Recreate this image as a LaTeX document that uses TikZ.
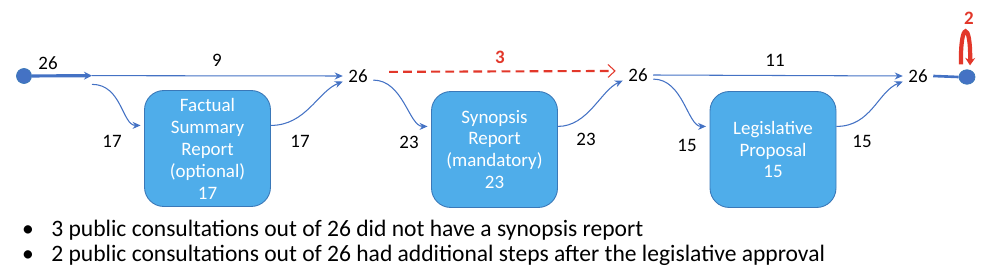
\documentclass[tikz,border=0pt]{standalone}
\usepackage{fontspec}
\setmainfont{Carlito}
\usetikzlibrary{arrows.meta,calc,shapes.geometric}
\definecolor{boxblue}{HTML}{4FADEA}
\definecolor{boxedge}{HTML}{3A78B8}
\definecolor{flowblue}{HTML}{4472C4}
\definecolor{flowred}{HTML}{E2372A}

\begin{document}
\begin{tikzpicture}[
  x=0.02cm, y=-0.02cm,
  font=\fontsize{10.8}{12.5}\selectfont,
  box/.style={draw=boxedge,fill=boxblue,rounded corners=11pt,text=white,align=center,
    minimum width=2.52cm,minimum height=2.32cm,line width=0.5pt},
  count/.style={inner xsep=3pt,inner ysep=2pt},
  lbl/.style={inner sep=1pt},
  arr/.style={-{Stealth[length=1.6mm,width=1.4mm]},draw=flowblue,line width=0.6pt},
  skip/.style={-{Straight Barb[length=1.4mm,width=2.6mm,line width=0.6pt]},draw=flowred,line width=1.2pt,
    dash pattern=on 5pt off 3pt},
  dot/.style={circle,draw=boxedge,fill=flowblue,minimum size=0.3cm,inner sep=0pt},
  note/.style={anchor=west,font=\fontsize{13.4}{15}\selectfont}
]
\useasboundingbox (0,0) rectangle (1000,280);

% start and fork
\node[dot] (start) at (24,76) {};
\node[inner sep=0pt,minimum width=0pt,minimum height=0.16cm] (fork) at (92,80) {};
\node[lbl] (n26) at (48,63) {26};
\draw[-{Stealth[length=1.6mm,width=1.6mm]},draw=flowblue,line width=1.8pt] (start) -- (fork.north);

% stage boxes
\node[box] (fsr) at (207.5,148.5) {Factual\\Summary\\Report\\(optional)\\17};
\node[box] (syn) at (494.5,149.5) {Synopsis\\Report\\(mandatory)\\23};
\node[box] (leg) at (773,149.5) {Legislative\\Proposal\\15};

% running totals
\node[count] (j1) at (358,76) {26};
\node[count] (j2) at (638,75) {26};
\node[count] (j3) at (918,76) {26};
\node[dot,ellipse,minimum width=0.32cm,minimum height=0.29cm] (stop) at (967,77) {};

% stage 1
\draw[arr] (fork.north) -- (j1.west);
\node[lbl] (n9) at (217,60) {9};
\draw[arr,shorten >=2pt] (fork.south) .. controls +(30,0) and +(-22,0) .. (fsr.160);
\node[lbl] (n17a) at (112,141) {17};
\draw[arr] (fsr.20) .. controls +(35,0) and +(-25,10) .. (j1.200);
\node[lbl] (n17b) at (300,141) {17};

% stage 2
\draw[skip,shorten <=9pt,shorten >=4pt] (j1.15) -- (j2.165);
\node[lbl,text=flowred,font=\fontsize{10.8}{12.5}\selectfont\bfseries] (n3) at (500,57) {3};
\draw[arr,shorten >=2pt] (j1.-15) .. controls +(30,0) and +(-22,0) .. (syn.160);
\node[lbl] (n23a) at (409,142) {23};
\draw[arr] (syn.20) .. controls +(30,0) and +(-22,10) .. (j2.200);
\node[lbl] (n23b) at (586,139) {23};

% stage 3
\draw[arr] (j2.east) -- (j3.west);
\node[lbl] (n11) at (775,60) {11};
\draw[arr,shorten >=2pt] (j2.-15) .. controls +(30,0) and +(-22,0) .. (leg.160);
\node[lbl] (n15a) at (687,145) {15};
\draw[arr] (leg.20) .. controls +(35,0) and +(-25,10) .. (j3.200);
\node[lbl] (n15b) at (862,141) {15};

% end and extra steps
\draw[draw=flowblue,line width=1.5pt] (j3.east) -- (stop.west);
\draw[-{Stealth[length=1.5mm,width=2mm]},draw=flowred,line width=2.4pt]
  ($(stop.north)+(-6,-5)$) .. controls +(-1,-44) and +(1,-44) .. ($(stop.north)+(3,-4)$);
\node[lbl,text=flowred,font=\fontsize{10.8}{12.5}\selectfont\bfseries] (n2) at (969,18) {2};

% notes
\node[note] (note1) at (16,230) {\textbullet\hspace{0.74em}3 public consultations out of 26 did not have a synopsis report};
\node[note] (note2) at (16,255) {\textbullet\hspace{0.74em}2 public consultations out of 26 had additional steps after the legislative approval};
\end{tikzpicture}
\end{document}
